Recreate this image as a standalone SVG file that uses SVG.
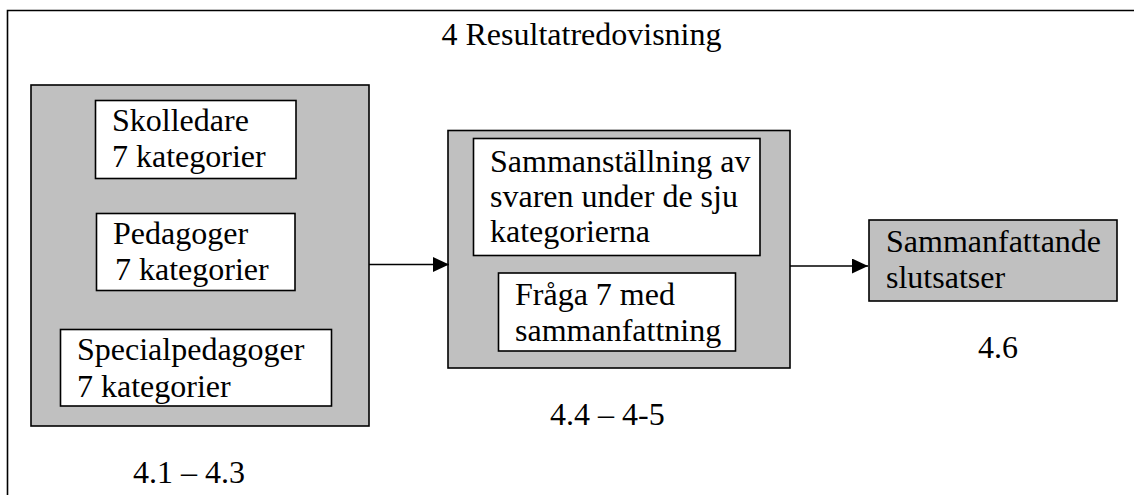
<svg xmlns="http://www.w3.org/2000/svg" width="1134" height="495" viewBox="0 0 1134 495">
<style>
text{font-family:"Liberation Serif","Times New Roman",serif;font-size:32px;fill:#000}
.g{fill:#c0c0c0;stroke:#000;stroke-width:1.6}
.w{fill:#fff;stroke:#000;stroke-width:1.6}
.ln{stroke:#000;stroke-width:1.6;fill:none}
</style>
<defs>
<marker id="ah" markerWidth="16" markerHeight="15" refX="16" refY="7.5" orient="auto" markerUnits="userSpaceOnUse">
<path d="M0,0 L16,7.5 L0,15 Z" fill="#000"/>
</marker>
</defs>
<path class="ln" d="M7.5,495 V10.5 H1134"/>
<text x="441.5" y="45">4 Resultatredovisning</text>
<g id="left-group">
<rect class="g" x="31" y="85" width="338" height="341"/>
<text x="133" y="483">4.1 – 4.3</text>
</g>
<g id="skolledare">
<rect class="w" x="95.5" y="100.5" width="200.5" height="78"/>
<text x="112" y="131">Skolledare</text>
<text x="112" y="167">7 kategorier</text>
</g>
<g id="pedagoger">
<rect class="w" x="96.5" y="213.5" width="198.5" height="77"/>
<text x="113" y="244">Pedagoger</text>
<text x="115" y="280">7 kategorier</text>
</g>
<g id="specialpedagoger">
<rect class="w" x="60.5" y="329.5" width="271" height="76.5"/>
<text x="77" y="359.5">Specialpedagoger</text>
<text x="77" y="397">7 kategorier</text>
</g>
<g id="middle-group">
<rect class="g" x="448" y="130.5" width="342" height="237.5"/>
<text x="550" y="425">4.4 – 4-5</text>
</g>
<g id="sammanstallning">
<rect class="w" x="473.5" y="138.5" width="286.5" height="117"/>
<text x="490" y="172">Sammanställning av</text>
<text x="490" y="207">svaren under de sju</text>
<text x="490" y="242">kategorierna</text>
</g>
<g id="fraga7">
<rect class="w" x="498.5" y="273" width="237" height="78"/>
<text x="515" y="304.5">Fråga 7 med</text>
<text x="515" y="341">sammanfattning</text>
</g>
<g id="slutsatser">
<rect class="g" x="869" y="220" width="248" height="81"/>
<text x="886" y="252">Sammanfattande</text>
<text x="886" y="287.5">slutsatser</text>
<text x="978" y="358">4.6</text>
</g>
<g id="connectors">
<line class="ln" x1="369" y1="264.5" x2="449" y2="264.5" marker-end="url(#ah)"/>
<line class="ln" x1="790" y1="266" x2="868" y2="266" marker-end="url(#ah)"/>
</g>
</svg>
